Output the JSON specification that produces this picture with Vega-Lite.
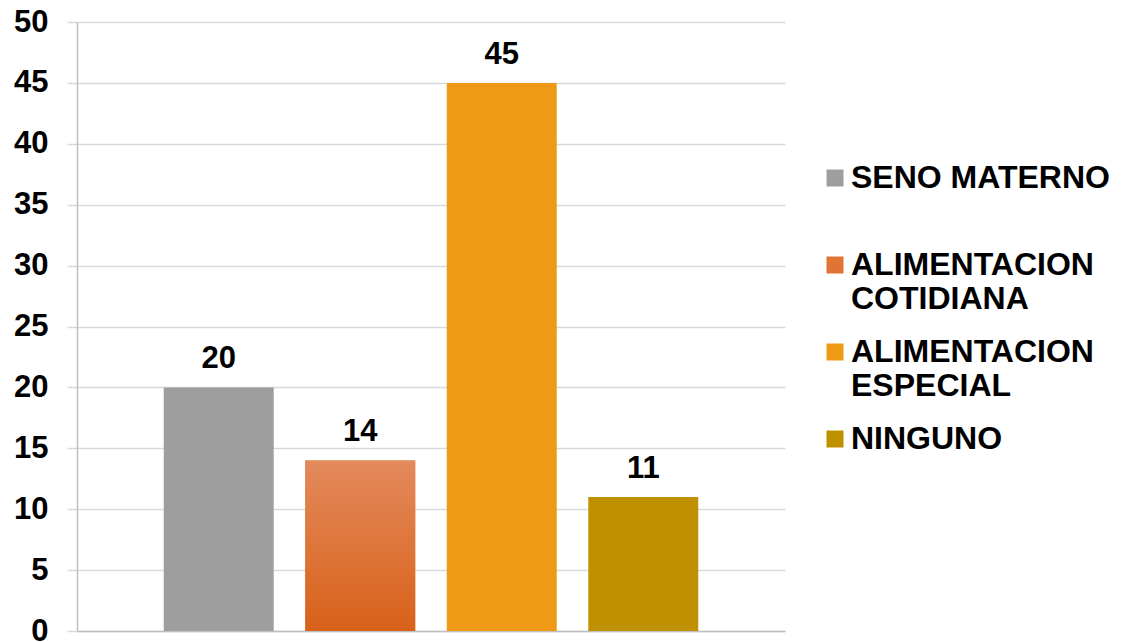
{
  "$schema": "https://vega.github.io/schema/vega-lite/v6.json",
  "width": 708,
  "height": 609,
  "autosize": "none",
  "padding": {"left": 77, "top": 22, "right": 338, "bottom": 11},
  "background": "white",
  "config": {"view": {"stroke": null}, "font": "Liberation Sans"},
  "data": {"values": [
    {"categoria": "SENO MATERNO", "valor": 20, "orden": 1},
    {"categoria": "ALIMENTACION COTIDIANA", "valor": 14, "orden": 2},
    {"categoria": "ALIMENTACION ESPECIAL", "valor": 45, "orden": 3},
    {"categoria": "NINGUNO", "valor": 11, "orden": 4}
  ]},
  "encoding": {
    "x": {
      "field": "categoria", "type": "nominal",
      "sort": ["SENO MATERNO", "ALIMENTACION COTIDIANA", "ALIMENTACION ESPECIAL", "NINGUNO"],
      "scale": {"paddingInner": 0.223, "paddingOuter": 0.613},
      "axis": {"labels": false, "ticks": false, "title": null, "domainColor": "#BFBFBF", "domainWidth": 1.5}
    },
    "y": {
      "field": "valor", "type": "quantitative",
      "scale": {"domain": [0, 50], "nice": false},
      "axis": {
        "title": null, "values": [0, 5, 10, 15, 20, 25, 30, 35, 40, 45, 50],
        "grid": true, "gridColor": "#D9D9D9", "gridWidth": 1.5,
        "domainColor": "#BFBFBF", "domainWidth": 1.5,
        "tickColor": "#D9D9D9", "tickSize": 10, "tickWidth": 1.5,
        "labelPadding": 19, "labelFontSize": 31, "labelFontWeight": "bold",
        "labelColor": "#000000", "labelFont": "Liberation Sans"
      }
    }
  },
  "layer": [
    {
      "mark": {"type": "bar"},
      "encoding": {
        "color": {
          "field": "categoria", "type": "nominal",
          "sort": ["SENO MATERNO", "ALIMENTACION COTIDIANA", "ALIMENTACION ESPECIAL", "NINGUNO"],
          "scale": {
            "domain": ["SENO MATERNO", "ALIMENTACION COTIDIANA", "ALIMENTACION ESPECIAL", "NINGUNO"],
            "range": ["#9E9E9E", "#E07434", "#EE9A16", "#BF9000"]
          },
          "legend": {
            "title": null, "orient": "none", "legendX": 742, "legendY": 140,
            "symbolType": "square", "symbolSize": 289, "symbolStrokeWidth": 0,
            "labelFontSize": 32, "labelFontWeight": "bold", "labelColor": "#000000",
            "labelFont": "Liberation Sans", "labelLimit": 0, "labelOffset": 0,
            "rowPadding": 21, "padding": 0,
            "labelExpr": "indexof(datum.label, 'ALIMENTACION') == 0 ? split(datum.label, ' ') : (datum.label == 'SENO MATERNO' ? ['SENO MATERNO', ' '] : datum.label)"
          }
        }
      }
    },
    {
      "transform": [{"filter": "datum.categoria == 'ALIMENTACION COTIDIANA'"}],
      "mark": {
        "type": "bar",
        "color": {"gradient": "linear", "x1": 0, "y1": 0, "x2": 0, "y2": 1, "stops": [{"offset": 0, "color": "#E38A5C"}, {"offset": 1, "color": "#D86119"}]}
      },
      "encoding": {}
    },
    {
      "mark": {"type": "text", "baseline": "alphabetic", "dy": -19, "fontSize": 31, "fontWeight": "bold", "font": "Liberation Sans", "color": "#000000"},
      "encoding": {"text": {"field": "valor", "type": "quantitative"}}
    }
  ]
}
